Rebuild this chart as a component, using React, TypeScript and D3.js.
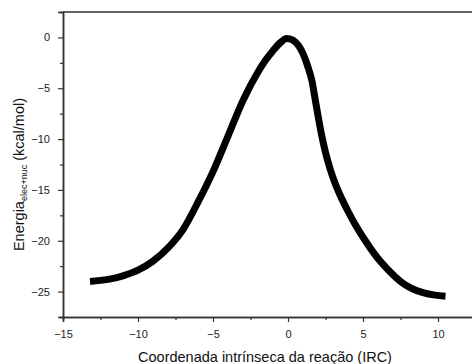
import React, { useEffect, useRef } from "react";
import * as d3 from "d3";

const irc = [-13.2, -12.0, -11.0, -10.0, -9.0, -8.0, -7.0, -6.0, -5.0, -4.0, -3.0, -2.0, -1.5, -1.0, -0.5, -0.1, 0.3, 0.7, 1.0, 1.35, 1.6, 1.8, 2.0, 2.24, 2.5, 2.8, 3.1, 3.47, 4.0, 4.5, 5.2, 6.0, 6.8, 7.5, 8.2, 9.0, 9.8, 10.5];
const energia = [-24.0, -23.8, -23.45, -22.9, -22.0, -20.7, -18.9, -16.2, -13.2, -9.7, -6.2, -3.4, -2.25, -1.3, -0.5, -0.1, -0.25, -0.8, -1.6, -3.0, -4.3, -6.0, -7.7, -9.6, -11.3, -12.9, -14.2, -15.5, -17.1, -18.45, -20.1, -21.75, -23.05, -24.0, -24.65, -25.1, -25.35, -25.45];

const xMajor = [-15, -10, -5, 0, 5, 10];
const yMajor = [-25, -20, -15, -10, -5, 0];
const xMinor = [-12.5, -7.5, -2.5, 2.5, 7.5, 12.5];
const yMinor = [-27.5, -22.5, -17.5, -12.5, -7.5, -2.5, 2.5];

const xTitle = "Coordenada intrínseca da reação (IRC)";
const yTitleMain = "Energia";
const yTitleSub = "elec+nuc";
const yTitleUnit = " (kcal/mol)";

const W = 472;
const H = 364;
const M = { left: 63, top: 12, right: -3.5, bottom: 47 };
const FONT = "Arial, 'Liberation Sans', sans-serif";

export default function App() {
  const ref = useRef<SVGSVGElement>(null);

  useEffect(() => {
    const svg = d3.select(ref.current);
    svg.selectAll("*").remove();

    const x = d3.scaleLinear().domain([-15, 12.5]).range([M.left, W - M.right]);
    const y = d3.scaleLinear().domain([-27.5, 2.5]).range([H - M.bottom, M.top]);

    svg.append("rect").attr("width", W).attr("height", H).attr("fill", "#ffffff");

    const axisColor = "#333333";

    // Curve
    const pts = irc.map((v, i) => [v, energia[i]] as [number, number]);
    const line = d3
      .line<[number, number]>()
      .x((d) => x(d[0]))
      .y((d) => y(d[1]))
      .curve(d3.curveMonotoneX);
    svg
      .append("path")
      .datum(pts)
      .attr("d", line)
      .attr("fill", "none")
      .attr("stroke", "#000")
      .attr("stroke-width", 7)
      .attr("stroke-linecap", "butt")
      .attr("stroke-linejoin", "round");

    const style = (g: any) => {
      g.selectAll("path.domain").attr("stroke", axisColor).attr("stroke-width", 1.5);
      g.selectAll("line").attr("stroke", axisColor).attr("stroke-width", 1.2);
      g.selectAll("text").attr("font-family", FONT).attr("font-size", 11).attr("fill", "#222");
    };

    // Bottom axis
    const bottomY = y(-27.5);
    const gxMinor = svg.append("g").attr("transform", `translate(0,${bottomY})`);
    gxMinor.call(d3.axisBottom(x).tickValues(xMinor).tickSize(3).tickFormat(() => ""));
    style(gxMinor);
    const gx = svg.append("g").attr("transform", `translate(0,${bottomY})`);
    gx.call(
      d3
        .axisBottom(x)
        .tickValues(xMajor)
        .tickSize(5)
        .tickPadding(8)
        .tickFormat((d) => d3.format("d")(d as number))
    );
    style(gx);

    // Left axis
    const leftX = x(-15);
    const gyMinor = svg.append("g").attr("transform", `translate(${leftX},0)`);
    gyMinor.call(d3.axisLeft(y).tickValues(yMinor).tickSize(3).tickFormat(() => ""));
    style(gyMinor);
    const gy = svg.append("g").attr("transform", `translate(${leftX},0)`);
    gy.call(
      d3
        .axisLeft(y)
        .tickValues(yMajor)
        .tickSize(5)
        .tickPadding(8)
        .tickFormat((d) => d3.format("d")(d as number))
    );
    style(gy);

    // Top frame line
    svg
      .append("line")
      .attr("x1", leftX)
      .attr("x2", W)
      .attr("y1", y(2.5))
      .attr("y2", y(2.5))
      .attr("stroke", axisColor)
      .attr("stroke-width", 1.5);

    // X title
    svg
      .append("text")
      .attr("x", 265)
      .attr("y", 362)
      .attr("text-anchor", "middle")
      .attr("font-family", FONT)
      .attr("font-size", 14.5)
      .attr("fill", "#111")
      .text(xTitle);

    // Y title
    const yt = svg
      .append("text")
      .attr("transform", `translate(23.5,174.5) rotate(-90)`)
      .attr("text-anchor", "middle")
      .attr("font-family", FONT)
      .attr("font-size", 14.5)
      .attr("fill", "#111");
    yt.append("tspan").text(yTitleMain);
    yt.append("tspan").attr("font-size", 9).attr("dy", 3).text(yTitleSub);
    yt.append("tspan").attr("dy", -3).text(yTitleUnit);
  }, []);

  return (
    <svg
      ref={ref}
      width={W}
      height={H}
      style={{ position: "absolute", left: 0, top: 0, display: "block" }}
    />
  );
}
